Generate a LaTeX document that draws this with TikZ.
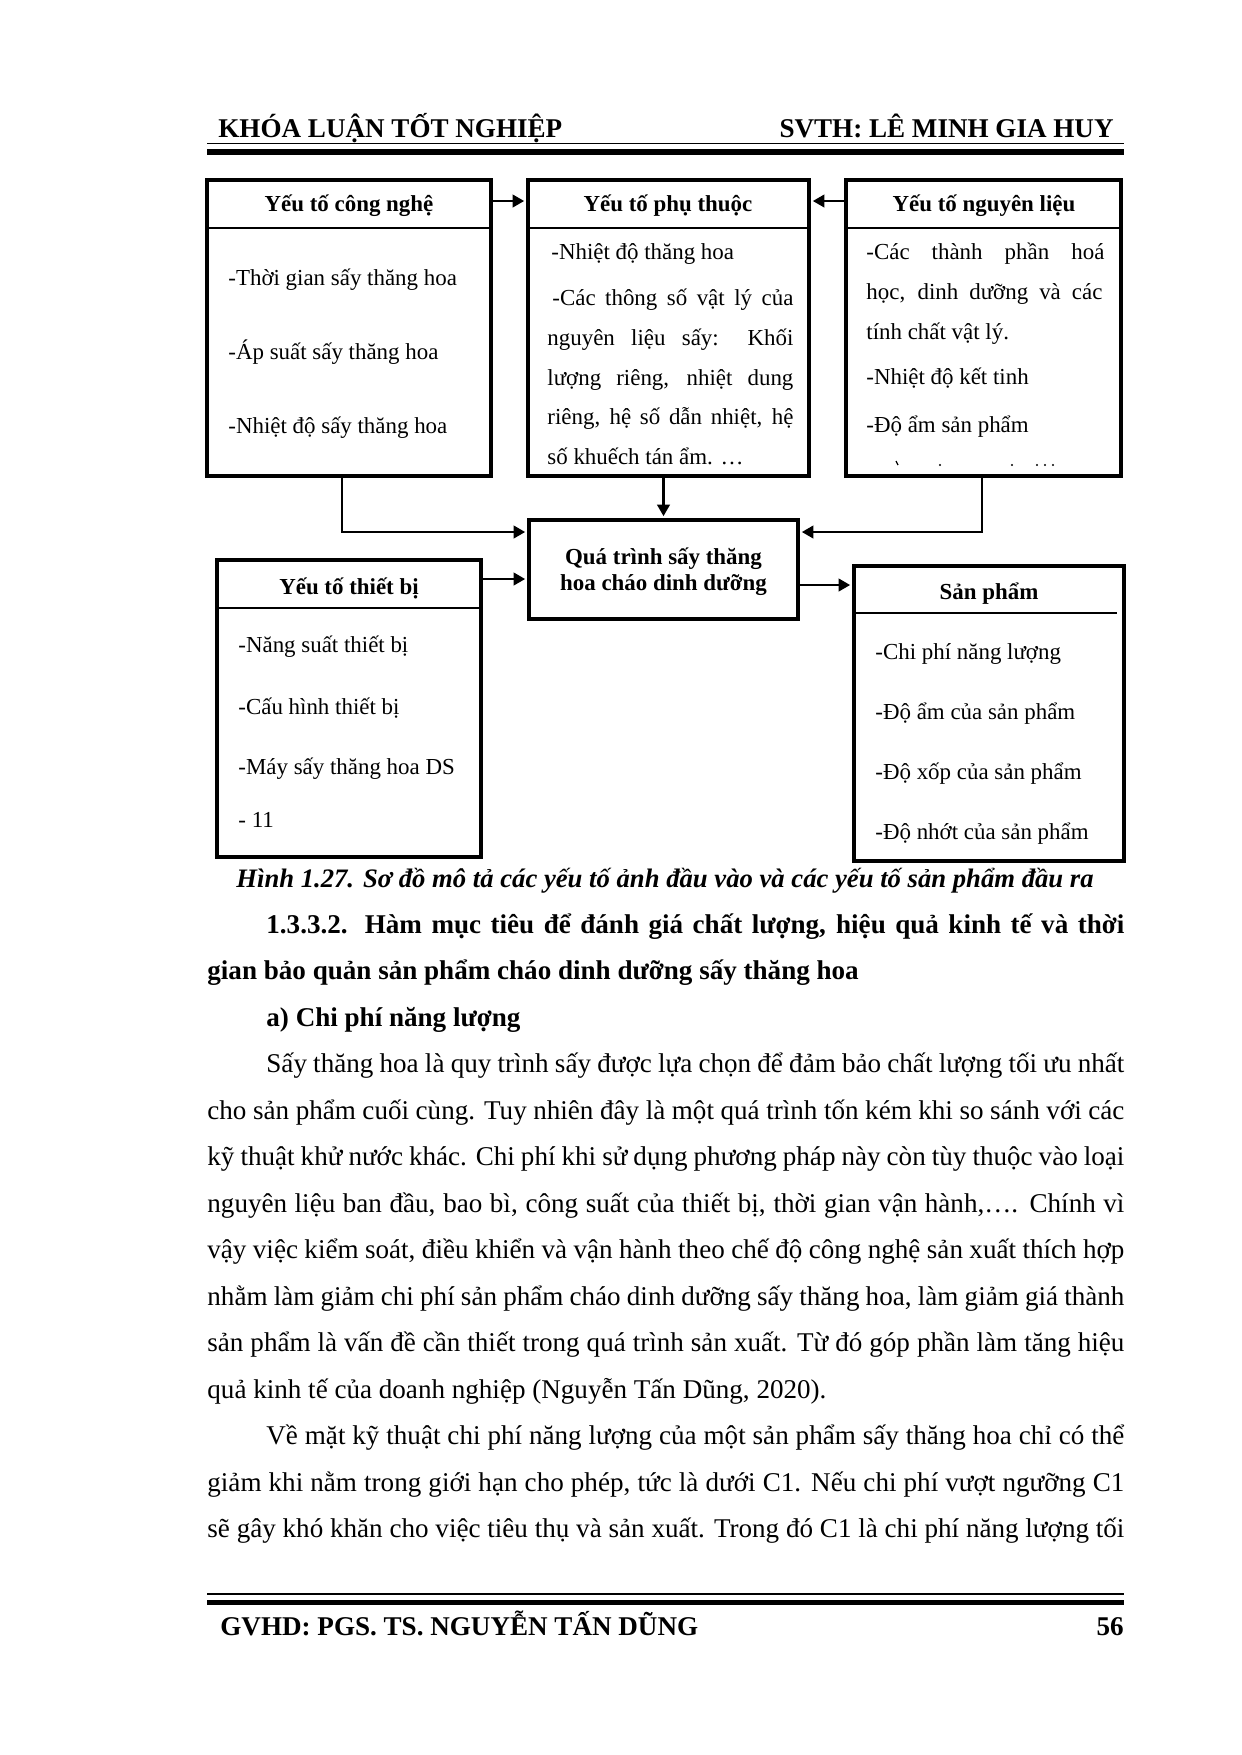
\documentclass[tikz,border=0pt]{standalone}
\usepackage{fontspec}
\setmainfont{Liberation Serif}
\usetikzlibrary{arrows.meta,fit}

% one line of running text, stretched to the right margin
\newcommand{\jline}[4]{%
    \node (#1) [anchor=base west, inner sep=0pt] at (#2,#3)
        {\hbox to \dimexpr 0.48pt*(1124-#2)\relax{#4}};
}
% one line of running text, left as it is
\newcommand{\nline}[4]{%
    \node (#1) [anchor=base west, inner sep=0pt] at (#2,#3) {#4};
}
% one line inside a box, stretched between two edges
\newcommand{\bline}[5]{%
    \node (#1) [boxtxt] at (#2,#4)
        {\hbox to \dimexpr 0.48pt*(#3-#2)\relax{#5}};
}

\tikzset{
    box/.style={draw, line width=1.9pt, inner sep=0pt},
    sepline/.style={line width=1.2pt},
    conn/.style={line width=1.1pt, shorten >=0.9pt,
        -{Triangle[length=5.5pt,width=6pt]}},
    boxtxt/.style={font=\fontsize{11}{13}\selectfont, inner sep=0pt, anchor=base west},
    boxttl/.style={font=\fontsize{11}{13}\selectfont\bfseries, inner sep=0pt, anchor=base},
}

\begin{document}
\begin{tikzpicture}[x=0.48pt, y=-0.48pt, font=\fontsize{13}{15}\selectfont]
    \useasboundingbox (0,0) rectangle (1242,1755);

    % header and footer rules
    \foreach \y in {143.5,1594} {
        \draw[line width=0.7pt] (207,\y) -- (1124,\y);
        \draw[line width=2.7pt] (207,\y+8.5) -- (1124,\y+8.5);
    }
    \node (hleft) [anchor=base west, inner sep=0pt, font=\fontsize{13}{15}\selectfont\bfseries]
        at (218,137) {KHÓA LUẬN TỐT NGHIỆP};
    \node (hright) [anchor=base east, inner sep=0pt, font=\fontsize{13}{15}\selectfont\bfseries]
        at (1114,137) {SVTH: LÊ MINH GIA HUY};
    \node (fleft) [anchor=base west, inner sep=0pt, font=\fontsize{13}{15}\selectfont\bfseries]
        at (220,1635) {GVHD: PGS. TS. NGUYỄN TẤN DŨNG};
    \node (fright) [anchor=base east, inner sep=0pt, font=\fontsize{13}{15}\selectfont\bfseries]
        at (1124,1635) {56};

    % boxes
    \node (cn) [box, fit={(207,180) (491,476)}] {};
    \node (pt) [box, fit={(528,180) (809,476)}] {};
    \node (nl) [box, fit={(846,180) (1121,476)}] {};
    \node (tb) [box, fit={(217,560) (481,857)}] {};
    \node (sp) [box, fit={(854,566) (1124,861)}] {};
    \node (qt) [box, fit={(529,520) (798,619)}] {};

    \draw[sepline] (207,228) -- (491,228);
    \draw[sepline] (528,228) -- (809,228);
    \draw[sepline] (846,228) -- (1121,228);
    \draw[sepline] (217,608) -- (481,608);
    \draw[sepline] (854,613) -- (1117,613);

    \node (cnt) [boxttl] at (349,211) {Yếu tố công nghệ};
    \node (ptt) [boxttl] at (668,211) {Yếu tố phụ thuộc};
    \node (nlt) [boxttl] at (984,211) {Yếu tố nguyên liệu};
    \node (tbt) [boxttl] at (349,594) {Yếu tố thiết bị};
    \node (spt) [boxttl] at (989,599) {Sản phẩm};
    \node (qt1) [boxttl] at (663.5,564) {Quá trình sấy thăng};
    \node (qt2) [boxttl] at (663.5,590) {hoa cháo dinh dưỡng};

    % box items
    \foreach \t/\y [count=\i] in {-Thời gian sấy thăng hoa/285,
            -Áp suất sấy thăng hoa/359, -Nhiệt độ sấy thăng hoa/433} {
        \node (cn\i) [boxtxt] at (228,\y) {\t};
    }
    \foreach \t/\y [count=\i] in {-Năng suất thiết bị/652, -Cấu hình thiết bị/714,
            -Máy sấy thăng hoa DS/774, - 11/827} {
        \node (tb\i) [boxtxt] at (238,\y) {\t};
    }
    \foreach \t/\y [count=\i] in {-Chi phí năng lượng/659, -Độ ẩm của sản phẩm/719,
            -Độ xốp của sản phẩm/779, -Độ nhớt của sản phẩm/839} {
        \node (sp\i) [boxtxt] at (875,\y) {\t};
    }

    \node (pt1) [boxtxt] at (551,259) {-Nhiệt độ thăng hoa};
    \bline{pt2}{552}{793}{305}{-Các thông số vật lý của}
    \bline{pt3}{547}{793}{345}{nguyên liệu sấy: Khối}
    \bline{pt4}{547}{793}{385}{lượng riêng, nhiệt dung}
    \bline{pt5}{547}{793}{424}{riêng, hệ số dẫn nhiệt, hệ}
    \node (pt6) [boxtxt] at (547,464) {số khuếch tán ẩm. …};

    \bline{nl1}{866}{1104}{259}{-Các thành phần hoá}
    \bline{nl2}{866}{1102}{299}{học, dinh dưỡng và các}
    \node (nl3) [boxtxt] at (866,339) {tính chất vật lý.};
    \node (nl4) [boxtxt] at (866,384) {-Nhiệt độ kết tinh};
    \node (nl5) [boxtxt] at (866,432) {-Độ ẩm sản phẩm};
    \draw[line width=0.6pt] (896,461) -- (898,465);
    \foreach \x in {940,1012,1037,1045,1053} {
        \fill (\x,465) circle (1.2);
    }

    % connectors
    \coordinate (ka) at (0,201);
    \coordinate (kb) at (342,532);
    \coordinate (kc) at (982,532);
    \coordinate (kd) at (0,579);
    \coordinate (ke) at (0,585);
    \draw[conn] (cn.east |- ka) -- (pt.west |- ka);
    \draw[conn] (nl.west |- ka) -- (pt.east |- ka);
    \draw[conn] (cn.south -| kb) |- (qt.west |- kb);
    \draw[conn] (nl.south -| kc) |- (qt.east |- kc);
    \draw[conn] (pt.south -| qt.north) -- (qt.north);
    \draw[conn] (tb.east |- kd) -- (qt.west |- kd);
    \draw[conn] (qt.east |- ke) -- (sp.west |- ke);

    % caption and running text
    \node (cap) [anchor=base, inner sep=0pt, font=\fontsize{12.8}{15}\selectfont\bfseries\itshape]
        at (665,887) {Hình 1.27. Sơ đồ mô tả các yếu tố ảnh đầu vào và các yếu tố sản phẩm đầu ra};
    \jline{l1}{266}{933}{\bfseries 1.3.3.2. Hàm mục tiêu để đánh giá chất lượng, hiệu quả kinh tế và thời}
    \nline{l2}{207}{979.5}{\bfseries gian bảo quản sản phẩm cháo dinh dưỡng sấy thăng hoa}
    \nline{l3}{266}{1026}{\bfseries a) Chi phí năng lượng}
    \jline{l4}{266}{1072.5}{Sấy thăng hoa là quy trình sấy được lựa chọn để đảm bảo chất lượng tối ưu nhất}
    \jline{l5}{207}{1119}{cho sản phẩm cuối cùng. Tuy nhiên đây là một quá trình tốn kém khi so sánh với các}
    \jline{l6}{207}{1165.5}{kỹ thuật khử nước khác. Chi phí khi sử dụng phương pháp này còn tùy thuộc vào loại}
    \jline{l7}{207}{1212}{nguyên liệu ban đầu, bao bì, công suất của thiết bị, thời gian vận hành,…. Chính vì}
    \jline{l8}{207}{1258.5}{vậy việc kiểm soát, điều khiển và vận hành theo chế độ công nghệ sản xuất thích hợp}
    \jline{l9}{207}{1305}{nhằm làm giảm chi phí sản phẩm cháo dinh dưỡng sấy thăng hoa, làm giảm giá thành}
    \jline{l10}{207}{1351.5}{sản phẩm là vấn đề cần thiết trong quá trình sản xuất. Từ đó góp phần làm tăng hiệu}
    \nline{l11}{207}{1398}{quả kinh tế của doanh nghiệp (Nguyễn Tấn Dũng, 2020).}
    \jline{l12}{266}{1444.5}{Về mặt kỹ thuật chi phí năng lượng của một sản phẩm sấy thăng hoa chỉ có thể}
    \jline{l13}{207}{1491}{giảm khi nằm trong giới hạn cho phép, tức là dưới C1. Nếu chi phí vượt ngưỡng C1}
    \jline{l14}{207}{1537.5}{sẽ gây khó khăn cho việc tiêu thụ và sản xuất. Trong đó C1 là chi phí năng lượng tối}
\end{tikzpicture}
\end{document}
